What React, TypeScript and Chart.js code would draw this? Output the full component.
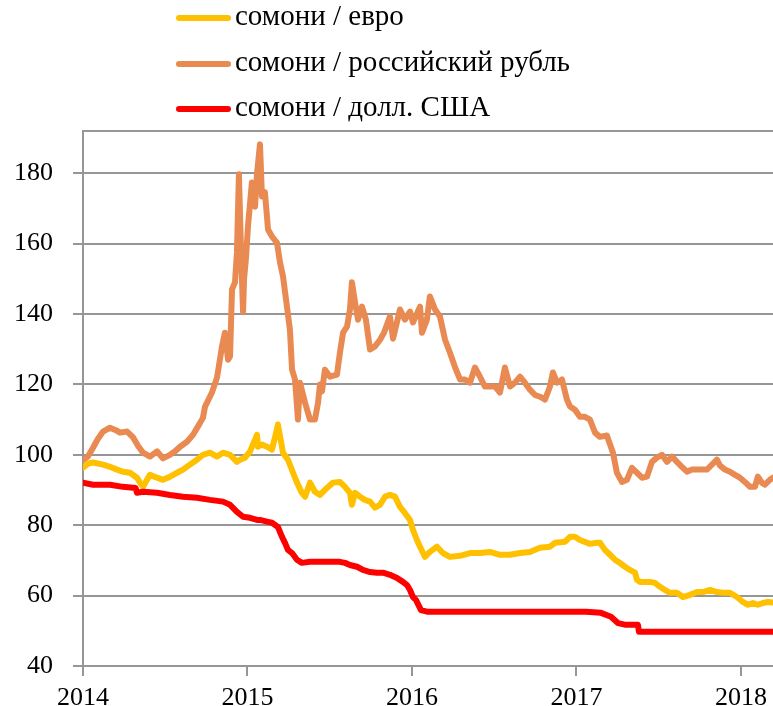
import React, { useEffect, useRef } from "react";
import { Chart, registerables } from "chart.js";

Chart.register(...registerables);

// ---- data (decimal years, values) ----
const SERIES_NAMES = ["сомони / евро", "сомони / российский рубль", "сомони / долл. США"];
const X_TICKS = [2014, 2015, 2016, 2017, 2018];
const Y_TICKS = [40, 60, 80, 100, 120, 140, 160, 180];
const X_MIN = 2014;
const X_MAX = 2018.195;
const Y_MIN = 40;
const Y_MAX = 192;

const EUR_T = [
  2014.0, 2014.03, 2014.061, 2014.122, 2014.164, 2014.207, 2014.243, 2014.286, 2014.328, 2014.347,
  2014.365, 2014.389, 2014.407, 2014.45, 2014.486, 2014.529, 2014.571, 2014.608, 2014.65, 2014.693,
  2014.729, 2014.772, 2014.815, 2014.851, 2014.894, 2014.936, 2014.955, 2014.985, 2015.015, 2015.046,
  2015.058, 2015.064, 2015.088, 2015.119, 2015.149, 2015.179, 2015.185, 2015.216, 2015.246, 2015.277,
  2015.301, 2015.331, 2015.35, 2015.38, 2015.41, 2015.441, 2015.483, 2015.52, 2015.562, 2015.593,
  2015.623, 2015.635, 2015.654, 2015.684, 2015.714, 2015.745, 2015.775, 2015.806, 2015.836, 2015.866,
  2015.897, 2015.927, 2015.957, 2015.988, 2016.006, 2016.03, 2016.049, 2016.079, 2016.109, 2016.152,
  2016.188, 2016.231, 2016.292, 2016.353, 2016.413, 2016.474, 2016.535, 2016.596, 2016.657, 2016.717,
  2016.778, 2016.839, 2016.869, 2016.93, 2016.961, 2016.991, 2017.021, 2017.082, 2017.125, 2017.143,
  2017.173, 2017.204, 2017.234, 2017.264, 2017.295, 2017.325, 2017.356, 2017.368, 2017.386, 2017.416,
  2017.447, 2017.477, 2017.508, 2017.538, 2017.568, 2017.611, 2017.647, 2017.69, 2017.733, 2017.769,
  2017.812, 2017.854, 2017.891, 2017.933, 2017.976, 2018.012, 2018.043, 2018.073, 2018.103, 2018.134,
  2018.164, 2018.195,
];
const EUR_V = [
  96.3, 97.5, 97.8, 97.2, 96.6, 95.8, 95.2, 94.9, 93.5, 92.1,
  90.9, 92.9, 94.3, 93.5, 92.9, 93.8, 94.9, 95.8, 97.2, 98.6,
  100, 100.6, 99.5, 100.6, 100, 98, 98.6, 99.2, 100.9, 104.3,
  105.7, 102.3, 102.9, 102.3, 101.5, 107.2, 108.6, 100.6, 98.6, 94.9,
  92.1, 89.2, 88.1, 92.1, 89.5, 88.6, 90.6, 92.1, 92.3, 90.9,
  89.2, 85.8, 89.2, 88.1, 87.2, 86.7, 85, 85.8, 88.1, 88.6,
  88.1, 85.2, 83.5, 81.5, 78.7, 75.8, 73.9, 71, 72.4, 73.9,
  72.1, 71, 71.3, 72.1, 72.1, 72.4, 71.6, 71.6, 72.1, 72.4,
  73.6, 73.9, 75, 75.3, 76.7, 76.7, 75.8, 74.7, 75, 75,
  73, 71.6, 70.2, 69.3, 68.2, 67.3, 66.5, 64.5, 63.9, 63.9,
  63.9, 63.6, 62.5, 61.6, 60.8, 60.8, 59.6, 60.2, 61, 61,
  61.6, 61, 60.8, 60.8, 59.6, 58.2, 57.4, 57.9, 57.4, 57.9,
  58.2, 58,
];

const RUB_T = [
  2014.0, 2014.03, 2014.061, 2014.09, 2014.122, 2014.164, 2014.2, 2014.225, 2014.268, 2014.304,
  2014.335, 2014.365, 2014.407, 2014.45, 2014.486, 2014.529, 2014.56, 2014.59, 2014.632, 2014.669,
  2014.711, 2014.729, 2014.742, 2014.784, 2014.815, 2014.845, 2014.863, 2014.882, 2014.894, 2014.906,
  2014.924, 2014.936, 2014.948, 2014.96, 2014.973, 2014.979, 2014.991, 2015.003, 2015.027, 2015.046,
  2015.058, 2015.076, 2015.088, 2015.106, 2015.125, 2015.149, 2015.179, 2015.198, 2015.216, 2015.24,
  2015.258, 2015.271, 2015.289, 2015.307, 2015.319, 2015.35, 2015.38, 2015.41, 2015.429, 2015.441,
  2015.453, 2015.471, 2015.502, 2015.544, 2015.562, 2015.581, 2015.605, 2015.623, 2015.635, 2015.654,
  2015.672, 2015.696, 2015.72, 2015.745, 2015.775, 2015.806, 2015.83, 2015.866, 2015.885, 2015.927,
  2015.957, 2015.988, 2016.006, 2016.049, 2016.061, 2016.091, 2016.109, 2016.14, 2016.17, 2016.201,
  2016.231, 2016.261, 2016.292, 2016.322, 2016.353, 2016.383, 2016.413, 2016.444, 2016.474, 2016.505,
  2016.535, 2016.565, 2016.596, 2016.626, 2016.657, 2016.687, 2016.717, 2016.748, 2016.778, 2016.809,
  2016.839, 2016.857, 2016.882, 2016.912, 2016.942, 2016.961, 2016.991, 2017.021, 2017.052, 2017.082,
  2017.113, 2017.143, 2017.185, 2017.222, 2017.246, 2017.277, 2017.307, 2017.337, 2017.368, 2017.398,
  2017.429, 2017.459, 2017.489, 2017.52, 2017.55, 2017.581, 2017.611, 2017.641, 2017.672, 2017.702,
  2017.733, 2017.763, 2017.793, 2017.824, 2017.854, 2017.872, 2017.903, 2017.933, 2017.964, 2017.994,
  2018.024, 2018.055, 2018.085, 2018.103, 2018.128, 2018.146, 2018.176, 2018.195,
];
const RUB_V = [
  98.5, 99.5, 102, 104.5, 106.6, 107.7, 107, 106.3, 106.6, 105,
  102.5, 100.6, 99.5, 101, 99, 100, 101, 102.3, 103.7, 105.7,
  109, 110.5, 113.7, 117.7, 122, 130.8, 134.7, 127, 128, 147,
  149, 157.5, 179.7, 159, 140.7, 149.8, 156, 164.9, 177.4, 170.5,
  180, 188.2, 173.4, 174.6, 164, 162, 160.3, 154.6, 150.7, 142.1,
  135.6, 124.2, 121.4, 110, 120.5, 114.8, 110, 110, 114.8, 120,
  118, 124.2, 122.2, 122.8, 129, 134.7, 136.4, 141.3, 149, 143.3,
  138.4, 142.1, 138.4, 129.9, 130.8, 132.7, 134.7, 139.3, 133, 141.3,
  138.4, 140.7, 137.6, 142.1, 134.7, 138.4, 145, 141.3, 139.3, 132.7,
  129, 125, 121.4, 121.4, 120.5, 124.8, 122.2, 119.4, 119.4, 119.4,
  117.7, 124.8, 119.4, 120.5, 122.2, 120.5, 118.5, 117, 116.5, 115.7,
  119.4, 123.4, 120.5, 121.4, 115.7, 113.7, 112.8, 110.8, 110.8, 110,
  106.3, 105.1, 105.5, 100.6, 94.9, 92.3, 92.9, 96.3, 94.9, 93.5,
  93.8, 98, 99.2, 100, 98, 99.5, 98, 96.6, 95.2, 95.8,
  95.8, 95.8, 95.8, 97.2, 98.6, 97, 95.8, 95.2, 94.3, 93.5,
  92.3, 90.9, 90.9, 93.8, 92, 91.5, 92.9, 93.5,
];

const USD_T = [
  2014.0, 2014.061, 2014.164, 2014.243, 2014.32, 2014.328, 2014.365, 2014.45, 2014.529, 2014.608,
  2014.693, 2014.772, 2014.851, 2014.894, 2014.936, 2014.973, 2015.015, 2015.058, 2015.076, 2015.119,
  2015.149, 2015.185, 2015.21, 2015.228, 2015.246, 2015.271, 2015.301, 2015.331, 2015.38, 2015.441,
  2015.502, 2015.562, 2015.593, 2015.623, 2015.666, 2015.702, 2015.745, 2015.787, 2015.824, 2015.866,
  2015.909, 2015.945, 2015.97, 2015.988, 2016.006, 2016.024, 2016.055, 2016.097, 2016.5, 2017.058,
  2017.149, 2017.21, 2017.252, 2017.301, 2017.374, 2017.38, 2018.195,
];
const USD_V = [
  92.1, 91.5, 91.5, 90.9, 90.6, 89.2, 89.5, 89.2, 88.6, 88.1,
  87.8, 87.2, 86.7, 85.8, 83.8, 82.4, 82.1, 81.5, 81.5, 81,
  80.7, 79.5, 76.7, 75, 73, 72.1, 70.2, 69.3, 69.6, 69.6,
  69.6, 69.6, 69.3, 68.7, 68.2, 67.3, 66.7, 66.5, 66.5, 65.9,
  65, 63.9, 63, 61.6, 59.6, 58.8, 55.9, 55.4, 55.4, 55.4,
  55.1, 54, 52.2, 51.7, 51.7, 49.7, 49.7,
];

const COLORS = ["#FFC000", "#E98A52", "#FF0000"];
const GRID = "#969696";
const FONT = "'Liberation Serif', 'Times New Roman', serif";

const toPoints = (t: number[], v: number[]) => t.map((x, i) => ({ x, y: v[i] }));

const stackedLegend = {
  id: "stackedLegend",
  afterDraw(chart: any) {
    const ctx = chart.ctx;
    const rows = [18, 64, 109];
    ctx.save();
    chart.data.datasets.forEach((ds: any, i: number) => {
      const y = rows[i];
      ctx.strokeStyle = ds.borderColor;
      ctx.lineWidth = 6;
      ctx.lineCap = "round";
      ctx.beginPath();
      ctx.moveTo(179, y);
      ctx.lineTo(228, y);
      ctx.stroke();
      ctx.fillStyle = "#000";
      ctx.font = `29px ${FONT}`;
      ctx.textBaseline = "middle";
      ctx.textAlign = "left";
      ctx.fillText(ds.label, 235, y - 1);
    });
    ctx.restore();
  },
};

export default function App() {
  const ref = useRef<HTMLCanvasElement>(null);
  useEffect(() => {
    document.body.style.margin = "0";
    const canvas = ref.current!;
    const mk = (i: number, t: number[], v: number[], order: number) => ({
      label: SERIES_NAMES[i],
      data: toPoints(t, v),
      borderColor: COLORS[i],
      backgroundColor: COLORS[i],
      borderWidth: 6,
      pointRadius: 0,
      tension: 0,
      borderJoinStyle: "round" as const,
      borderCapStyle: "round" as const,
      order,
    });
    const chart = new Chart(canvas, {
      type: "line",
      data: {
        datasets: [
          mk(0, EUR_T, EUR_V, 1),
          mk(1, RUB_T, RUB_V, 2),
          mk(2, USD_T, USD_V, 0),
        ],
      },
      options: {
        animation: false,
        responsive: false,
        devicePixelRatio: 1,
        layout: { padding: { top: 131, right: 0, left: 0, bottom: 0 } },
        plugins: { legend: { display: false }, tooltip: { enabled: false } },
        scales: {
          x: {
            type: "linear",
            min: X_MIN,
            max: X_MAX,
            afterBuildTicks: (axis: any) => {
              axis.ticks = X_TICKS.map((v) => ({ value: v }));
            },
            afterFit: (scale: any) => {
              scale.height = 40;
              scale.paddingLeft = 0;
              scale.paddingRight = 0;
            },
            ticks: {
              color: "#000",
              font: { family: FONT, size: 26 },
              padding: 7,
              maxRotation: 0,
              callback: (v: any) => String(v),
            },
            grid: {
              drawOnChartArea: false,
              drawTicks: true,
              tickLength: 10,
              color: GRID,
              lineWidth: 2,
            },
            border: { color: GRID, width: 2 },
          },
          y: {
            type: "linear",
            min: Y_MIN,
            max: Y_MAX,
            afterBuildTicks: (axis: any) => {
              axis.ticks = Y_TICKS.map((v) => ({ value: v })).concat([{ value: Y_MAX }]);
            },
            afterFit: (scale: any) => {
              scale.width = 83;
              scale.paddingTop = 0;
              scale.paddingBottom = 0;
            },
            ticks: {
              color: "#000",
              font: { family: FONT, size: 26 },
              padding: 20,
              callback: (v: any) => (Y_TICKS.includes(v) ? String(v) : ""),
            },
            grid: {
              color: GRID,
              lineWidth: 2,
              drawTicks: true,
              tickLength: 10,
              tickColor: (c: any) => (c.tick && c.tick.value === Y_MAX ? "rgba(0,0,0,0)" : GRID),
            },
            border: { color: GRID, width: 2 },
          },
        },
      },
      plugins: [stackedLegend],
    });
    return () => chart.destroy();
  }, []);
  return <canvas ref={ref} width={773} height={706} style={{ display: "block" }} />;
}
